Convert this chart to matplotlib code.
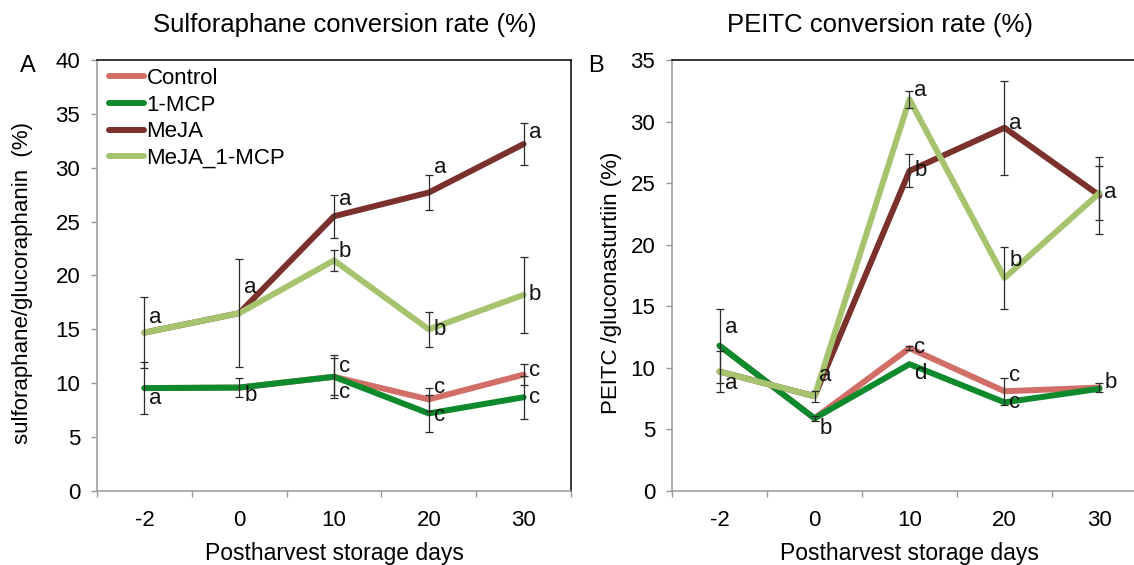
import numpy as np
import matplotlib
matplotlib.use("Agg")
import matplotlib.pyplot as plt
from matplotlib.ticker import FixedLocator, NullFormatter

plt.rcParams['font.family'] = ['Liberation Sans', 'DejaVu Sans']

days = ['-2', '0', '10', '20', '30']
series = ['Control', '1-MCP', 'MeJA', 'MeJA_1-MCP']
colors = {'Control': '#d26e68', '1-MCP': '#0d8a2b',
          'MeJA': '#7a302b', 'MeJA_1-MCP': '#a6c46e'}

# Sulforaphane conversion rate (%)
sfn_control = [9.55, 9.6, 10.6, 8.5, 10.8]
sfn_mcp = [9.55, 9.6, 10.6, 7.2, 8.7]
sfn_meja = [14.7, 16.5, 25.5, 27.7, 32.2]
sfn_meja_mcp = [14.7, 16.5, 21.4, 15.0, 18.2]
sfn_control_err = [np.nan, np.nan, 2.0, 1.1, 1.0]
sfn_mcp_err = [2.4, 0.9, 1.7, 1.7, 2.0]
sfn_meja_err = [np.nan, np.nan, 2.0, 1.6, 1.95]
sfn_meja_mcp_err = [3.3, 5.0, 1.0, 1.6, 3.5]
sfn_control_sig = ['', '', 'c', 'c', 'c']
sfn_mcp_sig = ['a', 'b', 'c', 'c', 'c']
sfn_meja_sig = ['', '', 'a', 'a', 'a']
sfn_meja_mcp_sig = ['a', 'a', 'b', 'b', 'b']

# PEITC conversion rate (%)
peitc_control = [11.8, 5.9, 11.6, 8.1, 8.4]
peitc_mcp = [11.8, 5.9, 10.3, 7.2, 8.3]
peitc_meja = [9.7, 7.7, 26.0, 29.5, 24.0]
peitc_meja_mcp = [9.7, 7.7, 31.8, 17.3, 24.2]
peitc_control_err = [np.nan, np.nan, 0.15, 1.1, 0.35]
peitc_mcp_err = [3.0, 0.2, np.nan, np.nan, np.nan]
peitc_meja_err = [np.nan, np.nan, 1.35, 3.8, 3.1]
peitc_meja_mcp_err = [1.7, 0.45, 0.7, 2.5, 2.2]
peitc_control_sig = ['', '', 'c', 'c', '']
peitc_mcp_sig = ['a', 'b', 'd', 'c', 'b']
peitc_meja_sig = ['', '', 'b', 'a', '']
peitc_meja_mcp_sig = ['a', 'a', 'a', 'b', 'a']

# vertical nudges (pixels) for the significance letters
sfn_dy = {'Control': [0, 0, 10, 12, 4],
          '1-MCP': [-10, -8, -16, -2, 0],
          'MeJA': [0, 0, 17, 25, 12],
          'MeJA_1-MCP': [15, 26, 9, 0, 0]}
peitc_dy = {'Control': [0, 0, 1, 16, 0],
            '1-MCP': [18, -10, -9, 0, 6],
            'MeJA': [0, 0, 0, 4, 0],
            'MeJA_1-MCP': [-12, 21, 9, 17, 0]}

panels = [
    dict(vals={'Control': sfn_control, '1-MCP': sfn_mcp,
               'MeJA': sfn_meja, 'MeJA_1-MCP': sfn_meja_mcp},
         errs={'Control': sfn_control_err, '1-MCP': sfn_mcp_err,
               'MeJA': sfn_meja_err, 'MeJA_1-MCP': sfn_meja_mcp_err},
         sigs={'Control': sfn_control_sig, '1-MCP': sfn_mcp_sig,
               'MeJA': sfn_meja_sig, 'MeJA_1-MCP': sfn_meja_mcp_sig},
         dy=sfn_dy, ymax=40, title='Sulforaphane conversion rate (%)',
         ylabel='sulforaphane/glucoraphanin  (%)', letter='A',
         left=97, width=474, title_x=345, letter_x=20, ylabel_x=23),
    dict(vals={'Control': peitc_control, '1-MCP': peitc_mcp,
               'MeJA': peitc_meja, 'MeJA_1-MCP': peitc_meja_mcp},
         errs={'Control': peitc_control_err, '1-MCP': peitc_mcp_err,
               'MeJA': peitc_meja_err, 'MeJA_1-MCP': peitc_meja_mcp_err},
         sigs={'Control': peitc_control_sig, '1-MCP': peitc_mcp_sig,
               'MeJA': peitc_meja_sig, 'MeJA_1-MCP': peitc_meja_mcp_sig},
         dy=peitc_dy, ymax=35, title='PEITC conversion rate (%)',
         ylabel='PEITC /gluconasturtiin (%)', letter='B',
         left=672, width=475, title_x=880, letter_x=588, ylabel_x=611),
]

W, H = 1134, 565
fig = plt.figure(figsize=(W / 100, H / 100), dpi=100)
fig.patch.set_facecolor('white')

top_px, bottom_px = 60, 491
x = np.arange(len(days))
FS = 16

for p in panels:
    left, width = p['left'], p['width']
    ax = fig.add_axes([left / W, (H - bottom_px) / H, width / W,
                       (bottom_px - top_px) / H])
    for s in series:
        ax.plot(x, p['vals'][s], color=colors[s], lw=4.3,
                solid_capstyle='round', label=s, zorder=3)
    for s in series:
        v = np.array(p['vals'][s], dtype=float)
        e = np.array(p['errs'][s], dtype=float)
        m = ~np.isnan(e)
        ax.errorbar(x[m], v[m], yerr=e[m], fmt='none', ecolor='#2a2a2a',
                    elinewidth=0.9, capsize=3.2, capthick=0.9, zorder=4)
    for s in series:
        for i, (lab, d) in enumerate(zip(p['sigs'][s], p['dy'][s])):
            if lab:
                ax.annotate(lab, (x[i], p['vals'][s][i]),
                            xytext=(5, d), textcoords='offset pixels',
                            ha='left', va='center', fontsize=FS,
                            color='#111111', zorder=5)

    ax.set_xlim(-0.5, len(days) - 0.5)
    ax.set_ylim(0, p['ymax'])
    ax.set_yticks(np.arange(0, p['ymax'] + 1, 5))
    ax.set_xticks(x)
    ax.set_xticklabels(days)
    ax.xaxis.set_minor_locator(FixedLocator(np.arange(-0.5, len(days), 1.0)))
    ax.xaxis.set_minor_formatter(NullFormatter())
    ax.tick_params(axis='x', which='major', length=0, pad=13.5,
                   labelsize=FS)
    ax.tick_params(axis='x', which='minor', length=4, width=1,
                   color='#999999')
    ax.tick_params(axis='y', length=4, width=1, color='#999999',
                   pad=8, labelsize=FS)
    for side in ('left', 'bottom'):
        ax.spines[side].set_color('#999999')
        ax.spines[side].set_linewidth(1.1)
    for side in ('top', 'right'):
        ax.spines[side].set_color('black')
        ax.spines[side].set_linewidth(1.1)

    ax.set_xlabel('Postharvest storage days', fontsize=16.5, labelpad=8)
    ax.set_title(p['title'], fontsize=18.5, pad=20,
                 x=(p['title_x'] - left) / width)
    fig.text(p['ylabel_x'] / W, (H - 283) / H, p['ylabel'], fontsize=16,
             rotation=90, ha='center', va='center')
    fig.text(p['letter_x'] / W, (H - 66) / H, p['letter'], fontsize=17,
             ha='left', va='center')

    if p['letter'] == 'A':
        ax.legend(loc='upper left', bbox_to_anchor=(4 / width, 1.0),
                  frameon=False, fontsize=FS, handlelength=1.6,
                  handletextpad=0.1, labelspacing=0.26,
                  borderaxespad=0.15, borderpad=0.2)

fig.savefig('out.png', dpi=100, facecolor='white')
